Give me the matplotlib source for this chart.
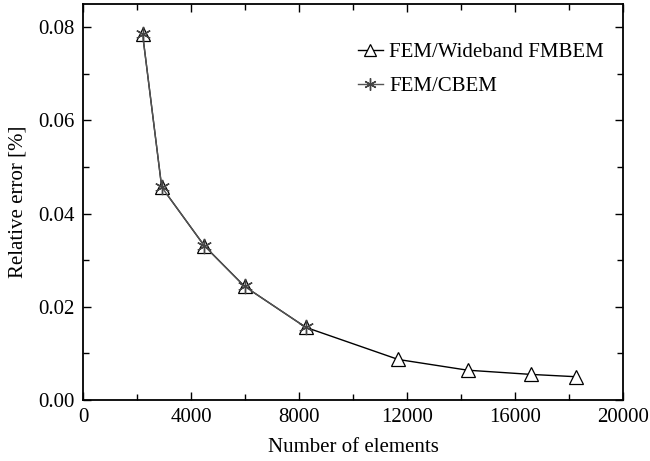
import matplotlib.pyplot as plt

n_fmbem = [2200, 2910, 4490, 5980, 8250, 11680, 14250, 16590, 18260]
err_fmbem = [0.0786, 0.0457, 0.0331, 0.0244, 0.0156, 0.0087, 0.0064, 0.0055, 0.0050]
n_cbem = [2200, 2910, 4490, 5980, 8250]
err_cbem = [0.0786, 0.0457, 0.0331, 0.0244, 0.0156]

plt.rcParams['font.family'] = ['Liberation Serif', 'DejaVu Serif']
plt.rcParams['font.size'] = 15

fig = plt.figure(figsize=(6.5, 4.61), dpi=100)
ax = fig.add_axes([0.128, 0.1323, 0.83, 0.859])

ax.plot(n_fmbem, err_fmbem, color='black', lw=1.0, marker='^', ms=10,
        mfc='white', mec='black', mew=0.9, label='FEM/Wideband FMBEM')
ax.plot(n_cbem, err_cbem, color='#555555', lw=1.0, marker=(6, 2, 0), ms=11,
        mec='#444444', mew=1.0, label='FEM/CBEM')

ax.set_xlim(0, 20000)
ax.set_ylim(0, 0.085)
ax.set_xticks(range(0, 20001, 4000))
ax.set_xticks(range(0, 20001, 2000), minor=True)
ax.set_yticks([0, 0.02, 0.04, 0.06, 0.08])
ax.set_yticklabels(['0.00', '0.02', '0.04', '0.06', '0.08'])
ax.set_yticks([0.01, 0.03, 0.05, 0.07], minor=True)
ax.tick_params(which='both', direction='in', top=True, right=True, width=1.0)
ax.tick_params(which='major', length=6, pad=6)
ax.tick_params(which='minor', length=4)
for s in ax.spines.values():
    s.set_linewidth(1.3)

ax.set_xlabel('Number of elements', labelpad=8)
ax.set_ylabel('Relative error [%]', labelpad=8)

ax.legend(loc='upper right', bbox_to_anchor=(1.0, 0.95), frameon=False,
          handlelength=1.2, handletextpad=0.3, labelspacing=0.7, markerscale=0.8)

fig.savefig('out.png', dpi=100)
